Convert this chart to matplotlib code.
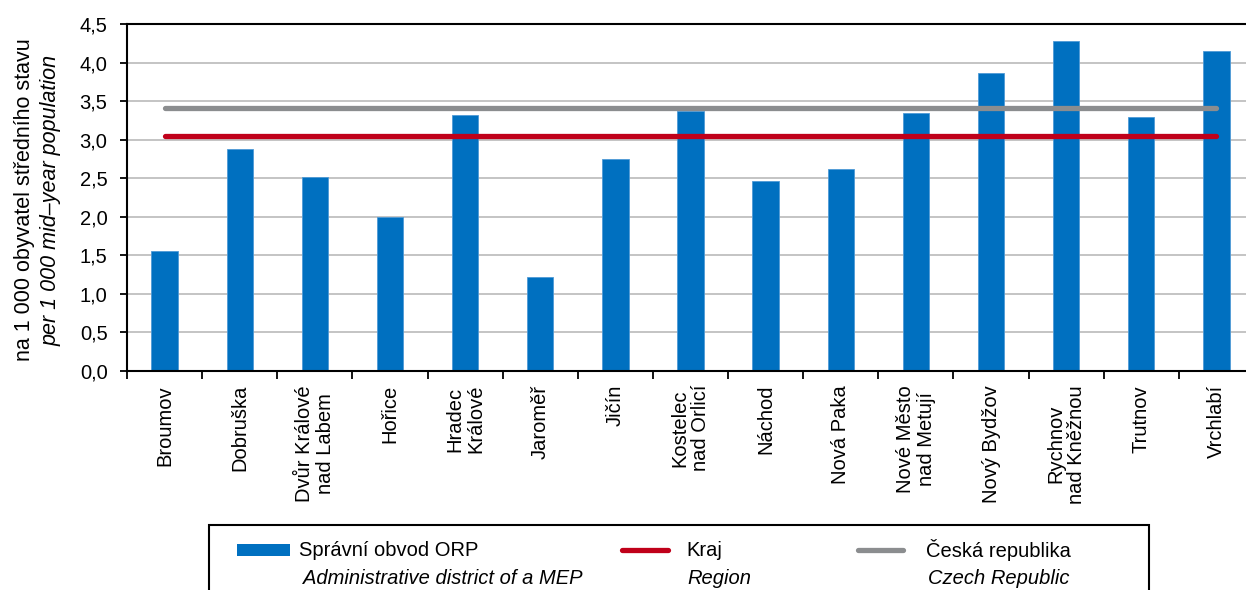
import numpy as np
import matplotlib
matplotlib.use("Agg")
import matplotlib.pyplot as plt
from matplotlib.patches import Rectangle
from matplotlib.lines import Line2D

plt.rcParams['font.family'] = ['Liberation Sans', 'DejaVu Sans']

# data
districts = ["Broumov", "Dobruška", "Dvůr Králové\nnad Labem", "Hořice", "Hradec\nKrálové",
             "Jaroměř", "Jičín", "Kostelec\nnad Orlicí", "Náchod", "Nová Paka",
             "Nové Město\nnad Metují", "Nový Bydžov", "Rychnov\nnad Kněžnou", "Trutnov", "Vrchlabí"]
orp = [1.56, 2.88, 2.52, 2.00, 3.32, 1.22, 2.75, 3.37, 2.46, 2.62, 3.35, 3.87, 4.28, 3.29, 4.15]
kraj = 3.05
cr = 3.41
yticks = [0, 0.5, 1, 1.5, 2, 2.5, 3, 3.5, 4, 4.5]

FS = 14.5
W, H = 1246, 590
fig = plt.figure(figsize=(W / 100, H / 100), dpi=100)
ax = fig.add_axes([127 / W, 1 - 371 / H, 1127 / W, 347 / H])

x = np.arange(len(districts))
ax.bar(x, orp, width=0.35, color="#0070c0", edgecolor="#4f9ad6", linewidth=0.6, zorder=2)
ax.plot([x[0], x[-1]], [kraj, kraj], color="#c0001a", lw=3.8, solid_capstyle="round", zorder=3)
ax.plot([x[0], x[-1]], [cr, cr], color="#8b8d8f", lw=3.8, solid_capstyle="round", zorder=3)

ax.set_xlim(-0.5, len(districts) - 0.5)
ax.set_ylim(0, 4.5)
ax.set_yticks(yticks)
ax.set_yticklabels([f"{v:.1f}".replace(".", ",") for v in yticks], fontsize=FS)
ax.yaxis.grid(True, color="#bfbfbf", lw=1.3, zorder=0)
ax.set_axisbelow(True)

ax.set_xticks(x)
ax.set_xticklabels(districts, rotation=90, fontsize=FS, ha="center", va="top",
                   multialignment="center", linespacing=1.12)
ax.tick_params(axis="x", length=0, pad=10)
ax.set_xticks(np.arange(-0.5, len(districts)), minor=True)
ax.tick_params(axis="x", which="minor", length=6, width=1.3, direction="out")
ax.tick_params(axis="y", length=5, width=1.3, direction="out", pad=9)

for s in ["left", "bottom", "top"]:
    ax.spines[s].set_linewidth(1.5)
    ax.spines[s].set_color("black")
ax.spines["right"].set_visible(False)

fig.text(25 / W, 1 - 200 / H, "na 1 000 obyvatel středního stavu", rotation=90,
         ha="center", va="center", fontsize=15.5)
fig.text(51 / W, 1 - 200 / H, "per 1 000 mid\u2013year population", rotation=90,
         ha="center", va="center", fontsize=15.5, style="italic")

# legend box drawn by hand
fig.patches.append(Rectangle((209 / W, -0.05), (1149 - 209) / W, 0.05 + (590 - 525) / H,
                             transform=fig.transFigure, facecolor="white",
                             edgecolor="black", lw=1.5))
fig.patches.append(Rectangle((237 / W, 1 - 556 / H), 53 / W, 12 / H,
                             transform=fig.transFigure, facecolor="#0070c0", edgecolor="none"))
fig.lines.append(Line2D([622 / W, 668 / W], [1 - 550 / H] * 2, transform=fig.transFigure,
                        color="#c0001a", lw=3.8, solid_capstyle="round"))
fig.lines.append(Line2D([858 / W, 903 / W], [1 - 550 / H] * 2, transform=fig.transFigure,
                        color="#8b8d8f", lw=3.8, solid_capstyle="round"))
legend_cz = [("Správní obvod ORP", 299), ("Kraj", 686), ("Česká republika", 926)]
legend_en = [("Administrative district of a MEP", 303), ("Region", 687), ("Czech Republic", 928)]
for t, px in legend_cz:
    fig.text(px / W, 1 - 550 / H, t, ha="left", va="center", fontsize=FS)
for t, px in legend_en:
    fig.text(px / W, 1 - 579 / H, t, ha="left", va="center", fontsize=FS, style="italic")

fig.savefig("out.png", dpi=100)
